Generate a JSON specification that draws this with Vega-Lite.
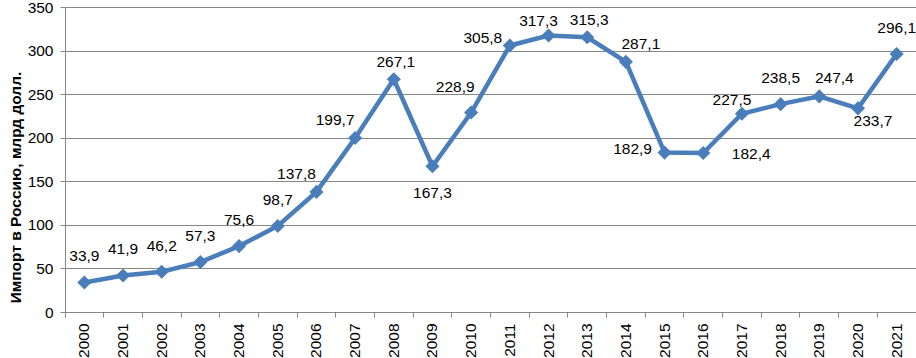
{
  "$schema": "https://vega.github.io/schema/vega-lite/v6.json",
  "autosize": "none",
  "width": 851,
  "height": 305,
  "padding": {"left": 65, "top": 7, "right": 0, "bottom": 46},
  "background": "white",
  "config": {
    "locale": {"number": {"decimal": ",", "thousands": " ", "grouping": [3], "currency": ["", ""]}},
    "font": "Liberation Sans",
    "view": {"stroke": null},
    "axis": {"labelFont": "Liberation Sans", "titleFont": "Liberation Sans", "labelColor": "#000000", "titleColor": "#000000", "labelFontSize": 15.5, "domainColor": "#868686", "tickColor": "#868686", "gridColor": "#868686", "gridWidth": 1, "domainWidth": 1},
    "text": {"fontSize": 15.5, "font": "Liberation Sans", "color": "#000000", "baseline": "middle", "align": "center"}
  },
  "data": {"values": [
    {"year": 2000, "value": 33.9},
    {"year": 2001, "value": 41.9},
    {"year": 2002, "value": 46.2},
    {"year": 2003, "value": 57.3},
    {"year": 2004, "value": 75.6},
    {"year": 2005, "value": 98.7},
    {"year": 2006, "value": 137.8},
    {"year": 2007, "value": 199.7},
    {"year": 2008, "value": 267.1},
    {"year": 2009, "value": 167.3},
    {"year": 2010, "value": 228.9},
    {"year": 2011, "value": 305.8},
    {"year": 2012, "value": 317.3},
    {"year": 2013, "value": 315.3},
    {"year": 2014, "value": 287.1},
    {"year": 2015, "value": 182.9},
    {"year": 2016, "value": 182.4},
    {"year": 2017, "value": 227.5},
    {"year": 2018, "value": 238.5},
    {"year": 2019, "value": 247.4},
    {"year": 2020, "value": 233.7},
    {"year": 2021, "value": 296.1}
  ]},
  "encoding": {
    "x": {"field": "year", "type": "ordinal", "scale": {"type": "band", "paddingInner": 0, "paddingOuter": 0},
      "axis": {"title": null, "labelAngle": 270, "labelAlign": "right", "labelBaseline": "middle", "labelPadding": 6, "ticks": true, "tickSize": 5, "bandPosition": 0, "grid": false, "domain": true}},
    "y": {"field": "value", "type": "quantitative", "scale": {"domain": [0, 350], "nice": false},
      "axis": {"values": [0, 50, 100, 150, 200, 250, 300, 350], "title": "Импорт в Россию, млрд долл.", "titleFontSize": 15.5, "titleFontWeight": "bold", "titleAngle": 270, "titleX": -50, "titleY": 180, "titleAlign": "center", "titleBaseline": "middle", "tickSize": 5, "labelPadding": 7, "grid": true, "domain": true}}
  },
  "layer": [
    {
      "mark": {"type": "line", "color": "#4A7EBB", "strokeWidth": 4.5}
    },
    {
      "mark": {"type": "point", "shape": "diamond", "filled": true, "color": "#4A7EBB", "size": 200, "opacity": 1}
    },
    {
      "transform": [{"filter": {"field": "year", "oneOf": [2000, 2001, 2002, 2003, 2004, 2005, 2018, 2021]}}],
      "mark": {"type": "text", "dx": 0, "dy": -26},
      "encoding": {"text": {"field": "value", "type": "quantitative", "format": ".1f"}}
    },
    {
      "transform": [{"filter": {"field": "year", "oneOf": [2008, 2013]}}],
      "mark": {"type": "text", "dx": 2, "dy": -17},
      "encoding": {"text": {"field": "value", "type": "quantitative", "format": ".1f"}}
    },
    {
      "transform": [{"filter": {"field": "year", "oneOf": [2006, 2007]}}],
      "mark": {"type": "text", "dx": -20, "dy": -18},
      "encoding": {"text": {"field": "value", "type": "quantitative", "format": ".1f"}}
    },
    {
      "transform": [{"filter": {"field": "year", "oneOf": [2012, 2017]}}],
      "mark": {"type": "text", "dx": -10, "dy": -14},
      "encoding": {"text": {"field": "value", "type": "quantitative", "format": ".1f"}}
    },
    {
      "transform": [{"filter": {"field": "year", "oneOf": [2010]}}],
      "mark": {"type": "text", "dx": -16, "dy": -26},
      "encoding": {"text": {"field": "value", "type": "quantitative", "format": ".1f"}}
    },
    {
      "transform": [{"filter": {"field": "year", "oneOf": [2011]}}],
      "mark": {"type": "text", "dx": -27, "dy": -8},
      "encoding": {"text": {"field": "value", "type": "quantitative", "format": ".1f"}}
    },
    {
      "transform": [{"filter": {"field": "year", "oneOf": [2014, 2019]}}],
      "mark": {"type": "text", "dx": 15, "dy": -18},
      "encoding": {"text": {"field": "value", "type": "quantitative", "format": ".1f"}}
    },
    {
      "transform": [{"filter": {"field": "year", "oneOf": [2009]}}],
      "mark": {"type": "text", "dx": 0, "dy": 27},
      "encoding": {"text": {"field": "value", "type": "quantitative", "format": ".1f"}}
    },
    {
      "transform": [{"filter": {"field": "year", "oneOf": [2015]}}],
      "mark": {"type": "text", "dx": -32, "dy": -4},
      "encoding": {"text": {"field": "value", "type": "quantitative", "format": ".1f"}}
    },
    {
      "transform": [{"filter": {"field": "year", "oneOf": [2016]}}],
      "mark": {"type": "text", "dx": 48, "dy": 1},
      "encoding": {"text": {"field": "value", "type": "quantitative", "format": ".1f"}}
    },
    {
      "transform": [{"filter": {"field": "year", "oneOf": [2020]}}],
      "mark": {"type": "text", "dx": 15, "dy": 13},
      "encoding": {"text": {"field": "value", "type": "quantitative", "format": ".1f"}}
    }
  ]
}
